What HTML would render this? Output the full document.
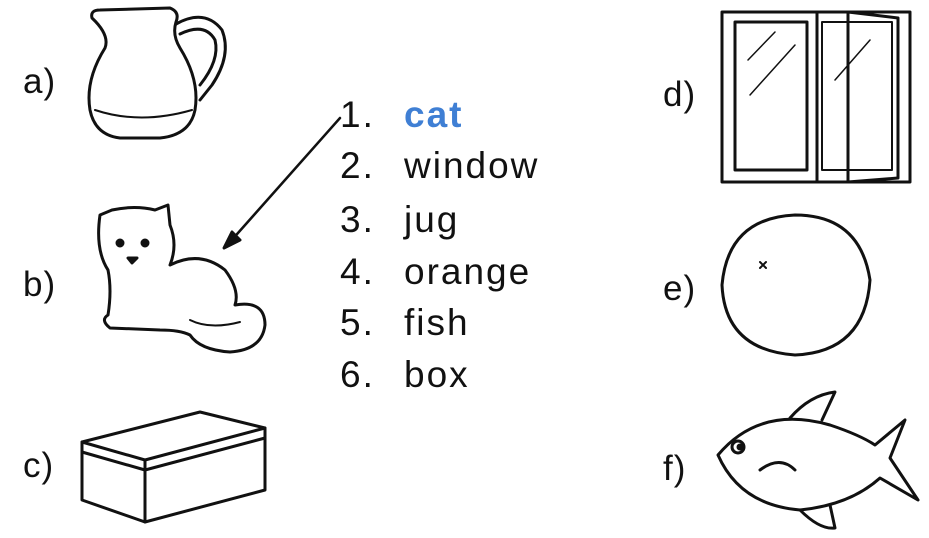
<!DOCTYPE html>
<html><head><meta charset="utf-8"><style>
html,body{margin:0;padding:0;background:#fff;}
.w{position:relative;width:929px;height:538px;overflow:hidden;font-family:"Liberation Sans",sans-serif;color:#111;}
.t{position:absolute;font-size:37px;line-height:37px;letter-spacing:2px;}
.l{position:absolute;font-size:35px;line-height:35px;letter-spacing:1px;}
</style></head><body><div class="w">
<svg width="929" height="538" style="position:absolute;left:0;top:0" fill="none" stroke="#111" stroke-width="3" stroke-linejoin="round" stroke-linecap="round">
<!-- jug -->
<path d="M92 18 Q90 10 100 10 L170 8 Q180 12 176 22 Q172 35 180 48 Q200 80 195 110 Q190 135 160 138 L120 138 Q95 135 90 110 Q85 80 105 48 Q110 35 92 18Z"/>
<path d="M176 24 Q205 8 222 30 Q232 55 212 85 L200 100"/>
<path d="M180 34 Q205 22 215 40 Q220 60 200 85"/>
<path d="M95 110 Q140 125 192 110" stroke-width="2"/>
<!-- cat -->
<path d="M100 215 L112 210 Q135 205 155 210 L168 205 L170 225 Q178 245 170 265 Q200 250 225 270 Q240 290 235 305 Q265 300 265 325 Q262 350 230 352 Q200 350 190 335 Q180 330 160 330 L110 328 Q100 320 108 315 Q112 290 108 270 Q95 250 100 215Z"/>
<path d="M190 320 Q210 330 240 322" stroke-width="2"/>
<circle cx="120" cy="243" r="3" fill="#111"/><circle cx="145" cy="243" r="3" fill="#111"/>
<path d="M128 258 L137 258 L132 263Z" fill="#111"/>
<!-- box -->
<path d="M82 442 L200 412 L265 428 L265 490 L145 522 L82 500Z"/>
<path d="M82 442 L145 460 L265 428 M145 460 L145 522 M82 452 L145 470 L265 438"/>
<!-- window -->
<rect x="722" y="12" width="188" height="170"/>
<rect x="735" y="22" width="72" height="148"/>
<path d="M817 12 L817 182 M848 12 L898 18 L898 178 L848 182Z"/>
<rect x="822" y="22" width="70" height="148" stroke-width="2"/>
<path d="M748 60 L775 32 M750 95 L795 45 M835 80 L870 40" stroke-width="1.5"/>
<!-- orange -->
<path d="M795 215 Q860 215 870 280 Q865 352 795 355 Q725 350 722 285 Q728 218 795 215Z"/>
<path d="M760 262 l6 6 m-6 0 l6 -6" stroke-width="2"/>
<!-- fish -->
<path d="M718 455 Q760 405 830 425 Q860 435 875 445 L905 420 L890 458 L918 500 L880 478 Q850 505 800 510 Q740 505 718 455Z"/>
<path d="M790 418 Q810 395 835 392 L822 420 M800 510 Q820 530 835 528 L830 505"/>
<circle cx="738" cy="447" r="6"/><circle cx="740" cy="447" r="2" fill="#111"/>
<path d="M760 470 Q780 455 795 470"/>
<!-- arrow -->
<path d="M340 118 L230 242" stroke-width="2.5"/>
<path d="M224 248 L232 232 L240 240Z" fill="#111"/>
</svg>
<div class="l" style="left:23px;top:64px">a)</div>
<div class="l" style="left:23px;top:267px">b)</div>
<div class="l" style="left:23px;top:448px">c)</div>
<div class="l" style="left:663px;top:77px">d)</div>
<div class="l" style="left:663px;top:271px">e)</div>
<div class="l" style="left:663px;top:451px">f)</div>
<div class="t" style="left:340px;top:96px">1.</div><div class="t" style="left:404px;top:96px;color:#3f7fd4;font-weight:bold">cat</div>
<div class="t" style="left:340px;top:147px">2.</div><div class="t" style="left:404px;top:147px">window</div>
<div class="t" style="left:340px;top:201px">3.</div><div class="t" style="left:404px;top:201px">jug</div>
<div class="t" style="left:340px;top:253px">4.</div><div class="t" style="left:404px;top:253px">orange</div>
<div class="t" style="left:340px;top:304px">5.</div><div class="t" style="left:404px;top:304px">fish</div>
<div class="t" style="left:340px;top:356px">6.</div><div class="t" style="left:404px;top:356px">box</div>
</div></body></html>
